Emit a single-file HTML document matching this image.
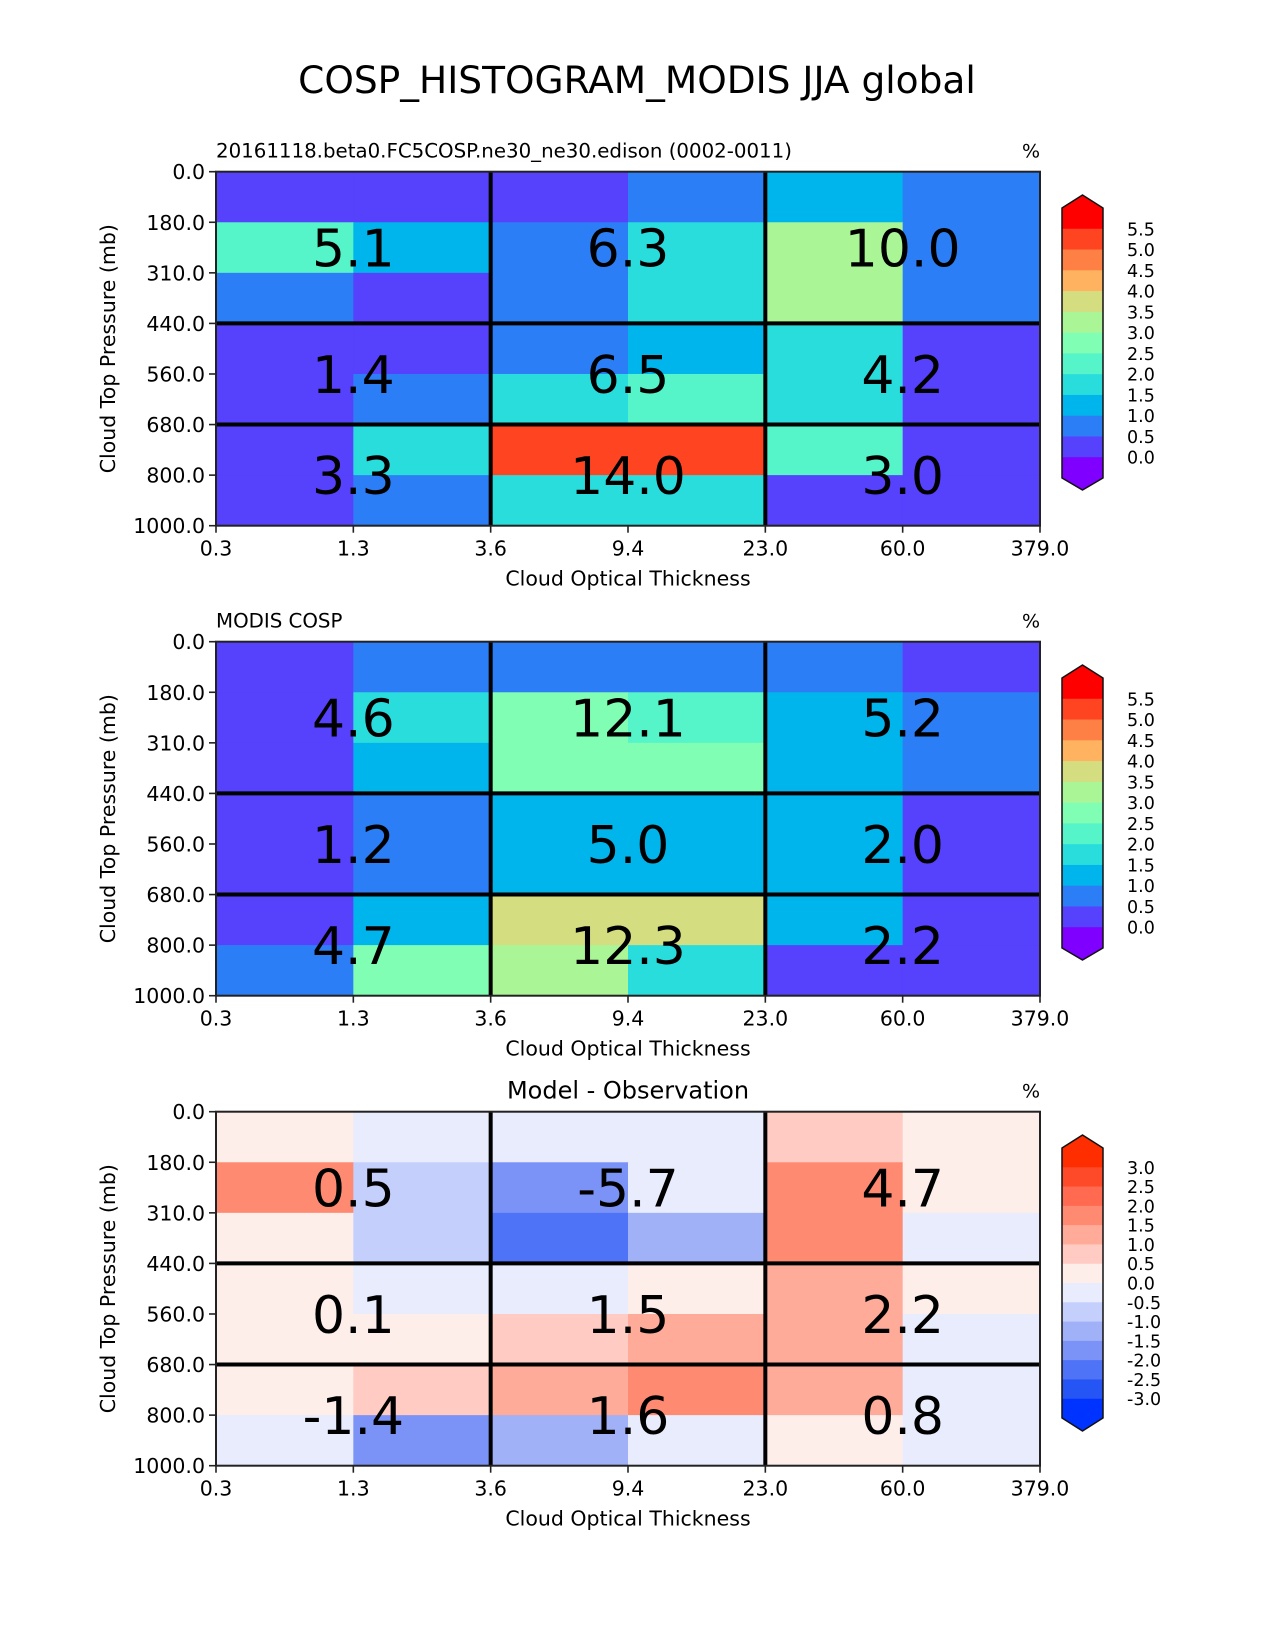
<!DOCTYPE html>
<html><head><meta charset="utf-8">
<style>
html,body{margin:0;padding:0;background:#fff;}
svg{display:block;font-family:"DejaVu Sans","Liberation Sans",sans-serif;}
</style></head>
<body>
<svg id="fig" width="1275" height="1650" viewBox="0 0 1275 1650" xmlns="http://www.w3.org/2000/svg">
<text x="637" y="93" font-size="37.5" text-anchor="middle">COSP_HISTOGRAM_MODIS JJA global</text>
</svg>
<script>
// Axis tick labels
const xTickLabels = ["0.3","1.3","3.6","9.4","23.0","60.0","379.0"];
const yTickLabels = ["0.0","180.0","310.0","440.0","560.0","680.0","800.0","1000.0"];
// Panel 1: model histogram (rows top->bottom = pressure bins, cols = optical thickness bins)
const modelValues = [
  [0.3,0.3,0.3,0.8,1.3,0.8],
  [2.3,1.3,0.8,1.8,3.3,0.8],
  [0.8,0.3,0.8,1.8,3.3,0.8],
  [0.3,0.3,0.8,1.3,1.8,0.3],
  [0.3,0.8,1.8,2.3,1.8,0.3],
  [0.3,1.8,5.3,5.3,2.3,0.3],
  [0.3,0.8,1.8,1.8,0.3,0.3]
];
const modelBlockLabels = ["5.1","6.3","10.0","1.4","6.5","4.2","3.3","14.0","3.0"];
// Panel 2: observation histogram
const obsValues = [
  [0.3,0.8,0.8,0.8,0.8,0.3],
  [0.3,1.8,2.8,2.3,1.3,0.8],
  [0.3,1.3,2.8,2.8,1.3,0.8],
  [0.3,0.8,1.3,1.3,1.3,0.3],
  [0.3,0.8,1.3,1.3,1.3,0.3],
  [0.3,1.3,3.8,3.8,1.3,0.3],
  [0.8,2.8,3.3,1.8,0.3,0.3]
];
const obsBlockLabels = ["4.6","12.1","5.2","1.2","5.0","2.0","4.7","12.3","2.2"];
// Panel 3: difference
const diffValues = [
  [0.2,-0.2,-0.2,-0.2,0.7,0.2],
  [1.7,-0.7,-1.7,-0.2,1.7,0.2],
  [0.2,-0.7,-2.2,-1.2,1.7,-0.2],
  [0.2,-0.2,-0.2,0.2,1.2,0.2],
  [0.2,0.2,0.7,1.2,1.2,-0.2],
  [0.2,0.7,1.2,1.7,1.2,-0.2],
  [-0.2,-1.7,-1.2,-0.2,0.2,-0.2]
];
const diffBlockLabels = ["0.5","-5.7","4.7","0.1","1.5","2.2","-1.4","1.6","0.8"];
// Colorbar levels
const seqLevels = [0.0,0.5,1.0,1.5,2.0,2.5,3.0,3.5,4.0,4.5,5.0,5.5];
const seqColors = ["#8000ff","#5641fd","#2c7ef7","#00b5eb","#2adddd","#56f4c9","#80ffb4","#aaf596","#d4dd80","#ffb360","#ff8044","#ff4422","#ff0000"];
const divLevels = [-3.0,-2.5,-2.0,-1.5,-1.0,-0.5,0.0,0.5,1.0,1.5,2.0,2.5,3.0];
const divColors = ["#0033ff","#2556f5","#4f73f7","#7b93f7","#a1b1f7","#c4d0fb","#e8ecfd","#fdeeea","#ffcbc2","#ffab9a","#ff8a72","#ff6a50","#ff4a2a","#ff2e00"];

const NS="http://www.w3.org/2000/svg";
const fig=document.getElementById('fig');
function mk(tag,attrs,parent){const e=document.createElementNS(NS,tag);for(const k in attrs)e.setAttribute(k,attrs[k]);(parent||fig).appendChild(e);return e;}
function colorFor(v,levels,colors){let i=0;while(i<levels.length&&v>=levels[i])i++;return colors[i];}

const PX=216,PW=824,PH=354;
function panel(top,values,blockLabels,levels,colors,title,titleCenter,name){
  const g=mk('g',{});
  
  
  const nC=xTickLabels.length-1,nR=yTickLabels.length-1;
  const xs=i=>PX+i*PW/nC, ys=j=>top+j*PH/nR;
  for(let r=0;r<nR;r++)for(let c=0;c<nC;c++){
    const rc=mk('rect',{x:xs(c),y:ys(r),width:xs(c+1)-xs(c)+0.5,height:ys(r+1)-ys(r)+0.5,fill:colorFor(values[r][c],levels,colors)},g);
    
    
  }
  [3,5].forEach(j=>{const l=mk('line',{x1:PX,x2:PX+PW,y1:ys(j),y2:ys(j),stroke:'#000','stroke-width':4},g);});
  [2,4].forEach(i=>{const l=mk('line',{x1:xs(i),x2:xs(i),y1:top,y2:top+PH,stroke:'#000','stroke-width':4},g);});
  const rowGroups=[[0,3],[3,5],[5,7]],colGroups=[[0,2],[2,4],[4,6]];
  let k=0;
  rowGroups.forEach(rg=>colGroups.forEach(cg=>{
    const t=mk('text',{x:(xs(cg[0])+xs(cg[1]))/2,y:(ys(rg[0])+ys(rg[1]))/2+19,'font-size':52,'text-anchor':'middle'},g);
    t.textContent=blockLabels[k++];
    
    
  }));
  mk('rect',{x:PX,y:top,width:PW,height:PH,fill:'none',stroke:'#222','stroke-width':2},g);
  xTickLabels.forEach((s,i)=>{
    mk('line',{x1:xs(i),x2:xs(i),y1:top+PH,y2:top+PH+7,stroke:'#222','stroke-width':1.6},g);
    const t=mk('text',{x:xs(i),y:top+PH+30,'font-size':20.5,'text-anchor':'middle'},g);t.textContent=s;
    
  });
  yTickLabels.forEach((s,j)=>{
    mk('line',{x1:PX-7,x2:PX,y1:ys(j),y2:ys(j),stroke:'#222','stroke-width':1.6},g);
    const t=mk('text',{x:PX-11,y:ys(j)+7.5,'font-size':20.5,'text-anchor':'end'},g);t.textContent=s;
    
  });
  const xl=mk('text',{x:PX+PW/2,y:top+PH+60,'font-size':20.5,'text-anchor':'middle'},g);xl.textContent='Cloud Optical Thickness';
  
  const yl=mk('text',{x:0,y:0,'font-size':20.5,'text-anchor':'middle',transform:`translate(115,${top+PH/2}) rotate(-90)`},g);yl.textContent='Cloud Top Pressure (mb)';
  
  const tt=titleCenter?mk('text',{x:PX+PW/2,y:top-13,'font-size':24,'text-anchor':'middle'},g):mk('text',{x:PX,y:top-14,'font-size':19.8},g);
  tt.textContent=title;
  
  const pc=mk('text',{x:PX+PW,y:top-14,'font-size':19,'text-anchor':'end'},g);pc.textContent='%';
  
}
function colorbar(tipTop,boxTop,boxBot,tipBot,levels,colors,name){
  const g=mk('g',{});
  
  
  const x0=1062,x1=1103,n=colors.length,h=(boxBot-boxTop)/n;
  for(let i=0;i<n;i++){
    const r=mk('rect',{x:x0,y:boxTop+i*h,width:x1-x0,height:h+0.5,fill:colors[n-1-i]},g);
    
  }
  mk('polygon',{points:`${x0},${boxTop+0.5} ${(x0+x1)/2},${tipTop} ${x1},${boxTop+0.5}`,fill:colors[n-1]},g);
  mk('polygon',{points:`${x0},${boxBot-0.5} ${(x0+x1)/2},${tipBot} ${x1},${boxBot-0.5}`,fill:colors[0]},g);
  mk('polygon',{points:`${x0},${boxTop} ${(x0+x1)/2},${tipTop} ${x1},${boxTop} ${x1},${boxBot} ${(x0+x1)/2},${tipBot} ${x0},${boxBot}`,fill:'none',stroke:'#111','stroke-width':1.5},g);
  levels.forEach((v,i)=>{
    const y=boxBot-(i+1)*h;
    const t=mk('text',{x:1127,y:y+6.5,'font-size':17.5},g);
    t.textContent=v.toFixed(1);
    
  });
}
panel(171.7,modelValues,modelBlockLabels,seqLevels,seqColors,'20161118.beta0.FC5COSP.ne30_ne30.edison (0002-0011)',false,'model-panel');
panel(641.7,obsValues,obsBlockLabels,seqLevels,seqColors,'MODIS COSP',false,'observation-panel');
panel(1111.7,diffValues,diffBlockLabels,divLevels,divColors,'Model - Observation',true,'difference-panel');
colorbar(195,208,478,490,seqLevels,seqColors,'model-colorbar');
colorbar(665,678,948,960,seqLevels,seqColors,'observation-colorbar');
colorbar(1135,1148,1418,1431,divLevels,divColors,'difference-colorbar');
</script>
</body></html>
